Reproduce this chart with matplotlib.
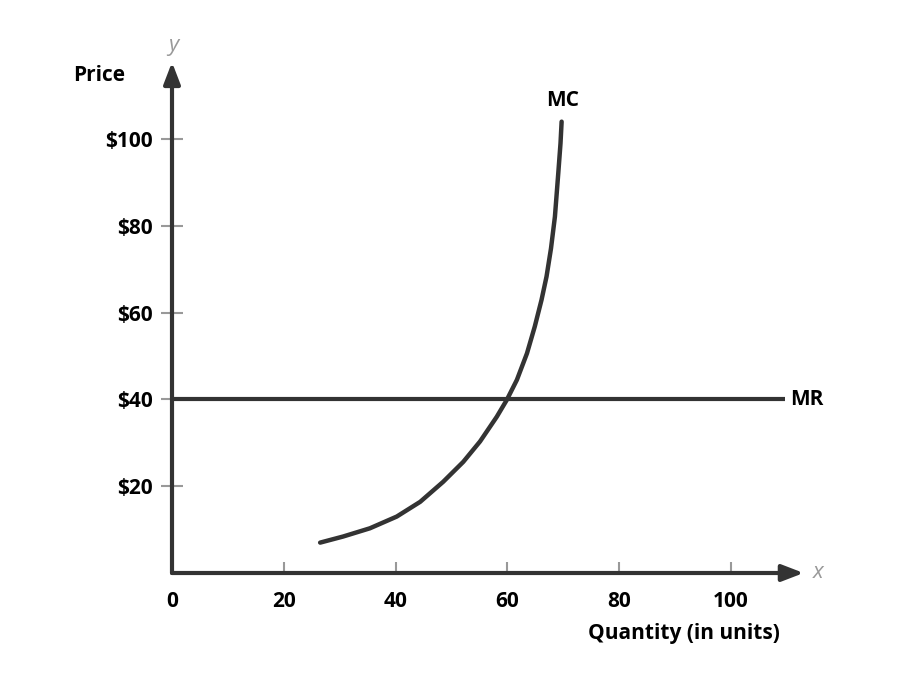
import matplotlib.pyplot as plt

plt.rcParams['font.family'] = ['Open Sans', 'DejaVu Sans']

# MC curve
mc_q = [26.5, 30.6, 35.4, 40.2, 44.4, 48.5, 52.1, 55.1, 58.1, 59.9,
        61.7, 63.5, 64.9, 66.1, 67.0, 67.8, 68.5, 69.1, 69.5, 69.7]
mc_p = [7.0, 8.4, 10.3, 13.0, 16.4, 21.0, 25.6, 30.3, 36.0, 39.9,
        44.5, 50.6, 56.8, 62.9, 68.3, 74.8, 82.1, 92.1, 99.0, 104.0]

# MR is flat
mr_q = [0, 109.7]
mr_p = [40, 40]

x_ticks = [0, 20, 40, 60, 80, 100]
x_labels = ["0", "20", "40", "60", "80", "100"]
y_ticks = [20, 40, 60, 80, 100]
y_labels = ["$20", "$40", "$60", "$80", "$100"]

DARK = "#333333"
GREY = "#999999"
FS = 15
FW = "bold"

fig = plt.figure(figsize=(9, 6.75), dpi=100)

# axes placed so that data 0,0 sits at pixel (172, 573)
left = 172 / 900
bottom = (675 - 573) / 675
width = (115 * 5.59) / 900
height = (120 * 4.34) / 675
ax = fig.add_axes([left, bottom, width, height])
ax.set_xlim(0, 115)
ax.set_ylim(0, 120)

for s in ax.spines.values():
    s.set_visible(False)

# axis arrows
arrow = dict(arrowstyle="-|>,head_length=1.3,head_width=0.5",
             color=DARK, lw=3, shrinkA=0, shrinkB=0)
ax.annotate("", xy=(113, 0), xytext=(0, 0), arrowprops=arrow,
            annotation_clip=False)
ax.annotate("", xy=(0, 117.7), xytext=(0, 0), arrowprops=arrow,
            annotation_clip=False)

ax.plot(mr_q, mr_p, color=DARK, lw=3, solid_capstyle="butt")
ax.plot(mc_q, mc_p, color=DARK, lw=3.2, solid_capstyle="round",
        solid_joinstyle="round")

ax.set_xticks(x_ticks)
ax.set_xticklabels(x_labels, fontsize=FS, fontweight=FW)
ax.set_yticks(y_ticks)
ax.set_yticklabels(y_labels, fontsize=FS, fontweight=FW)
ax.tick_params(axis="x", direction="in", length=8, width=1.5, color=GREY, pad=13)
ax.tick_params(axis="y", direction="inout", length=16, width=1.5, color=GREY, pad=6)

ax.text(69.8, 106.5, "MC", fontsize=FS, fontweight=FW, ha="center", va="bottom")
ax.text(110.5, 40, "MR", fontsize=FS, fontweight=FW, ha="left", va="center")
ax.text(91.5, -14.0, "Quantity (in units)", fontsize=FS, fontweight=FW,
        ha="center", va="center", clip_on=False)
ax.text(-13, 114.7, "Price", fontsize=FS, fontweight=FW,
        ha="center", va="center", clip_on=False)
ax.text(0.2, 121.5, "y", fontsize=16, style="italic", color=GREY,
        ha="center", va="center", clip_on=False)
ax.text(115.5, 0, "x", fontsize=16, style="italic", color=GREY,
        ha="center", va="center", clip_on=False)

fig.savefig("out.png", dpi=100)
